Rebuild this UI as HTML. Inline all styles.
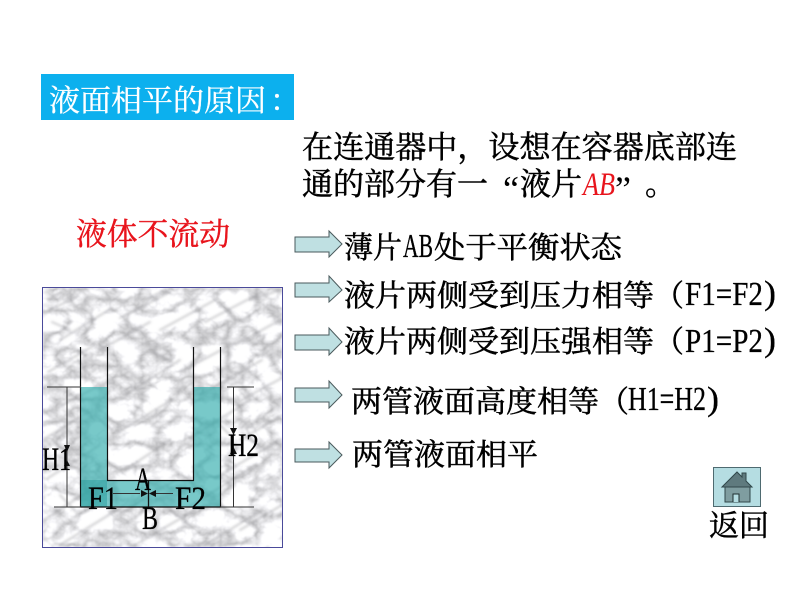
<!DOCTYPE html>
<html><head><meta charset="utf-8"><style>
html,body{margin:0;padding:0;background:#fff;width:800px;height:600px;overflow:hidden}
svg{display:block}
.c{font-family:"Noto Serif CJK SC",serif;font-size:30px;fill:#000;stroke:#000;stroke-width:.5}
.l{font-family:"Liberation Serif",serif;font-size:34px;fill:#000;stroke:#000;stroke-width:.3}
.p{font-family:"Liberation Serif",serif;font-size:33px;fill:#000;stroke:#000;stroke-width:.3}
.a{fill:#bfe0e2;stroke:#4a5a5c;stroke-width:1}
</style></head><body>
<svg width="800" height="600" viewBox="0 0 800 600" xmlns="http://www.w3.org/2000/svg">
<defs>
<filter id="n" filterUnits="userSpaceOnUse" x="43" y="288" width="239" height="259" color-interpolation-filters="sRGB">
<feTurbulence type="turbulence" baseFrequency="0.035 0.045" numOctaves="5" seed="11"/>
<feColorMatrix type="matrix" values="0 0 0 0.7 0.7  0 0 0 0.7 0.7  0 0 0 0.7 0.71  0 0 0 0 1"/>
<feGaussianBlur stdDeviation="0.6"/>
</filter>
<filter id="b" filterUnits="userSpaceOnUse" x="43" y="288" width="239" height="259"><feGaussianBlur stdDeviation="1.2"/></filter>
<clipPath id="pc"><rect x="43" y="288" width="239" height="259"/></clipPath>
</defs>

<rect x="41" y="74" width="253" height="46" fill="#0cb0ee"/>
<g font-family="'Noto Serif CJK SC',serif" font-size="30" fill="#fff" stroke="#fff" stroke-width=".3">
<text x="49" y="111" textLength="217" lengthAdjust="spacingAndGlyphs">液面相平的原因</text>
<text x="270" y="111">：</text>
</g>

<text class="c" x="302" y="158" style="font-size:31px" textLength="435" lengthAdjust="spacingAndGlyphs">在连通器中，设想在容器底部连</text>
<text class="c" x="302" y="195" style="font-size:31px" textLength="186" lengthAdjust="spacingAndGlyphs">通的部分有一</text>
<text x="503" y="201" font-family="'Liberation Serif',serif" font-size="36">“</text>
<text class="c" x="520" y="195" style="font-size:31px" textLength="62" lengthAdjust="spacingAndGlyphs">液片</text>
<text x="583" y="195" font-family="'Liberation Serif',serif" font-style="italic" font-size="33" fill="#e8141c" textLength="32" lengthAdjust="spacingAndGlyphs">AB</text>
<text x="615" y="201" font-family="'Liberation Serif',serif" font-size="36">”</text>
<text class="c" x="645" y="195" style="font-size:31px">。</text>

<text x="76" y="245" font-family="'Noto Serif CJK SC',serif" font-size="31" fill="#e8141c" stroke="#e8141c" stroke-width=".4" textLength="154" lengthAdjust="spacingAndGlyphs">液体不流动</text>

<!-- arrows -->
<path class="a" d="M295 237H329V231L342 244L329 257V252H295Z"/>
<path class="a" d="M295 283H329V276L342 290L329 302V297H295Z"/>
<path class="a" d="M295 335H329V328L342 342L329 355V350H295Z"/>
<path class="a" d="M295 388H329V381L342 395L329 408V402H295Z"/>
<path class="a" d="M295 449H329V442L342 455L329 468V462H295Z"/>

<!-- statements -->
<text class="c" x="344" y="258" textLength="58" lengthAdjust="spacingAndGlyphs">薄片</text>
<text class="l" x="403" y="257" textLength="30" lengthAdjust="spacingAndGlyphs">AB</text>
<text class="c" x="434" y="258" textLength="188" lengthAdjust="spacingAndGlyphs">处于平衡状态</text>

<text class="c" x="344" y="306" textLength="310" lengthAdjust="spacingAndGlyphs">液片两侧受到压力相等</text>
<text class="c" x="654" y="306">（</text>
<text class="l" x="685" y="305" textLength="78" lengthAdjust="spacingAndGlyphs">F1=F2</text>
<text class="l" x="764" y="304" textLength="12" lengthAdjust="spacingAndGlyphs">)</text>

<text class="c" x="344" y="352" textLength="310" lengthAdjust="spacingAndGlyphs">液片两侧受到压强相等</text>
<text class="c" x="654" y="352">（</text>
<text class="l" x="685" y="352" textLength="78" lengthAdjust="spacingAndGlyphs">P1=P2</text>
<text class="l" x="764" y="351" textLength="12" lengthAdjust="spacingAndGlyphs">)</text>

<text class="c" x="351" y="412" textLength="248" lengthAdjust="spacingAndGlyphs">两管液面高度相等</text>
<text class="c" x="599" y="412">（</text>
<text class="l" x="628" y="410" textLength="78" lengthAdjust="spacingAndGlyphs">H1=H2</text>
<text class="l" x="707" y="410" textLength="12" lengthAdjust="spacingAndGlyphs">)</text>

<text class="c" x="352" y="465" textLength="186" lengthAdjust="spacingAndGlyphs">两管液面相平</text>

<!-- marble panel -->
<rect x="43" y="288" width="239" height="259" fill="#fff" filter="url(#n)"/>
<g clip-path="url(#pc)">
<path filter="url(#b)" fill="none" stroke="#8d8d92" stroke-width="2" stroke-opacity=".42" stroke-linecap="round" d="M46 312L78 296M60 340L112 308M52 322L70 330M120 318L170 292M100 350L150 322M160 330L215 300M205 322L262 292M235 345L280 320M180 372L240 340M48 372L95 345M62 405L110 380M125 395L180 360M200 395L262 360M245 398L282 378M46 438L88 412M118 432L172 400M190 438L250 400M240 440L282 415M48 478L100 445M125 470L170 440M215 478L280 440M44 520L105 480M118 515L175 480M185 510L255 465M240 530L282 505M60 545L125 505M135 545L195 510M205 545L262 510M48 300L62 292M145 300L165 290M250 300L280 290M78 360L90 375M150 350L172 362M95 415L112 430M215 420L230 435M60 495L76 512M170 510L190 525"/>
</g>
<rect x="42.500" y="287.500" width="240" height="260" fill="none" stroke="#4a4a9a" stroke-width="1"/>

<!-- liquid -->
<path d="M81 387H107V480H194V387H220V507H81Z" fill="#38b0b0" fill-opacity=".68"/>
<rect x="81" y="480" width="26" height="27" fill="#1f9a9a" fill-opacity=".45"/>

<!-- tube -->
<g stroke="#111" stroke-width="1.200" fill="none">
<path d="M80.500 347V507H220.500V347"/>
<path d="M107.500 347V480.500H193.500V347"/>
</g>
<g stroke="#333" stroke-width="1" fill="none">
<path d="M47 387H81M54 507H81M220 507H254M227 387H254"/>
<path d="M67 387V507M233.500 387V507"/>
<path d="M113 493.500H140M152 493.500H173"/>
</g>
<path d="M148.500 480V507" stroke="#111" stroke-width="1.300"/>
<g fill="#111">
<path d="M64 445H70L67 452Z"/>
<path d="M64 466H70L67 460Z"/>
<path d="M230 428H237L233.500 435Z"/>
<path d="M230 454H237L233.500 447Z"/>
<path d="M148 493.500L141 490V497Z"/>
<path d="M149 493.500L156 490V497Z"/>
</g>
<text class="p" x="42" y="470" textLength="29" lengthAdjust="spacingAndGlyphs">H1</text>
<text class="p" x="228" y="456" textLength="31" lengthAdjust="spacingAndGlyphs">H2</text>
<text class="p" x="135" y="490" textLength="16" lengthAdjust="spacingAndGlyphs">A</text>
<text class="p" x="88" y="509" textLength="30" lengthAdjust="spacingAndGlyphs">F1</text>
<text class="p" x="175" y="509" textLength="31" lengthAdjust="spacingAndGlyphs">F2</text>
<text class="p" x="142" y="529" textLength="16" lengthAdjust="spacingAndGlyphs">B</text>

<!-- home button -->
<rect x="713.500" y="467.500" width="47" height="39" fill="#b5dde2" stroke="#4e6a70" stroke-width="1"/>
<path d="M725 486V502H750V486Z" fill="#7f9da0" stroke="#30474a" stroke-width="1"/>
<path d="M722 487L737 472L742 477V473H746V481L752 487Z" fill="#5f7a7e" stroke="#30474a" stroke-width="1"/>
<path d="M733 502V494H739V502" fill="#b5dde2" stroke="#1f2f30" stroke-width="1"/>
<text class="c" x="709" y="536" style="font-size:30px" textLength="60" lengthAdjust="spacingAndGlyphs">返回</text>
</svg>
</body></html>
